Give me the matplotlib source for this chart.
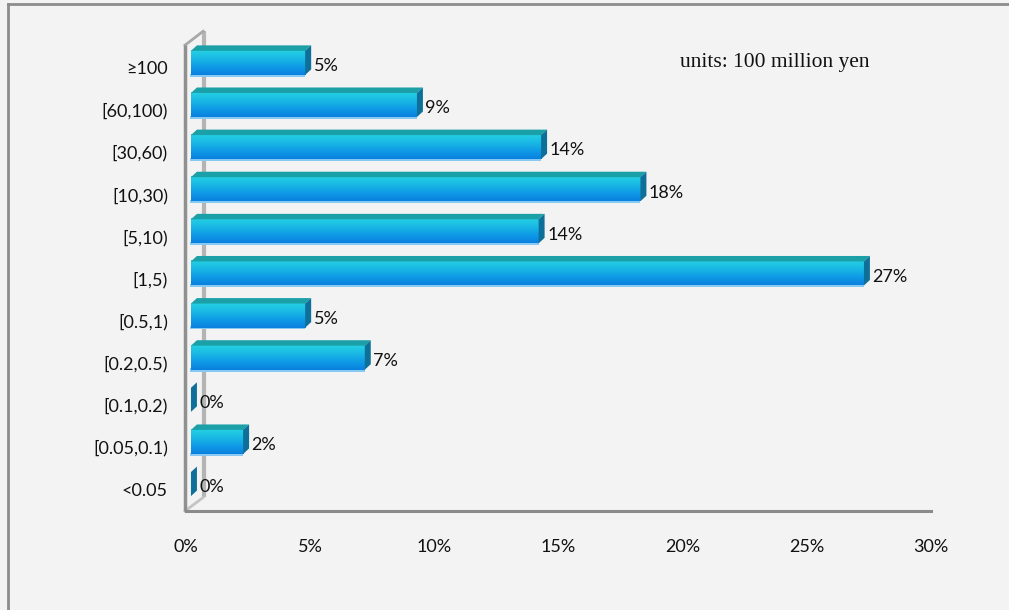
import numpy as np
import matplotlib
matplotlib.use("Agg")
import matplotlib.pyplot as plt
from matplotlib.patches import Polygon, Rectangle
from matplotlib.colors import LinearSegmentedColormap
from matplotlib.lines import Line2D

# Distribution of companies by size (units: 100 million yen)
categories = ["<0.05", "[0.05,0.1)", "[0.1,0.2)", "[0.2,0.5)", "[0.5,1)", "[1,5)",
              "[5,10)", "[10,30)", "[30,60)", "[60,100)", "\u2265100"]
shares = [0.0, 2.1, 0.0, 7.0, 4.6, 27.1, 14.0, 18.1, 14.1, 9.1, 4.6]
x_ticks = [0, 5, 10, 15, 20, 25, 30]
x_tick_labels = [f"{t}%" for t in x_ticks]
units_note = "units: 100 million yen"

W, H, DPI = 1009, 610, 100
BG = "#f3f3f3"
fig = plt.figure(figsize=(W / DPI, H / DPI), dpi=DPI, facecolor=BG)

# outer chart frame (top and left edges visible)
fig.add_artist(Line2D([8 / W, 8 / W], [0, 1 - 4 / H], transform=fig.transFigure,
                      color="#8c8c8c", lw=2))
fig.add_artist(Line2D([8 / W, 1], [1 - 4 / H, 1 - 4 / H], transform=fig.transFigure,
                      color="#8c8c8c", lw=2))

# plot area
left_px, right_px, bot_px, top_px = 186, 931, 511, 46
ax = fig.add_axes([left_px / W, 1 - bot_px / H, (right_px - left_px) / W,
                   (bot_px - top_px) / H])
ax.set_facecolor("none")
n = len(categories)
ax.set_xlim(0, 30)
ax.set_ylim(-0.52, n - 1 + 0.52)

for s in ["top", "right", "left"]:
    ax.spines[s].set_visible(False)
ax.spines["bottom"].set_color("#8a8a8a")
ax.spines["bottom"].set_linewidth(2.2)

FONT = ["Lato", "DejaVu Sans"]
ax.set_xticks(x_ticks)
ax.set_xticklabels(x_tick_labels)
ax.set_yticks(range(n))
ax.set_yticklabels(categories)
ax.tick_params(axis="x", length=0, pad=20, labelsize=13, labelcolor="#111111")
ax.tick_params(axis="y", length=0, pad=13, labelsize=13, labelcolor="#111111")
for lab in ax.get_xticklabels() + ax.get_yticklabels():
    lab.set_fontfamily(FONT)

# 3-D styling constants (data units)
base = 0.2           # floor offset of the bar fronts
dx, dy = 0.24, 0.13  # depth of the bars
half_h = 0.285
y_shift = 0.12

# walls
wall_back_x = 0.72
ax.plot([wall_back_x, wall_back_x], [-0.19, 10.87], color="#b4b4b4", lw=3,
        zorder=1, clip_on=False, solid_capstyle="butt")
ax.plot([-0.04, -0.04], [-0.52, 10.54], color="#909090", lw=2.5, zorder=2,
        clip_on=False, solid_capstyle="butt")
ax.plot([-0.04, 0.69], [10.54, 10.87], color="#a8a8a8", lw=2, zorder=1, clip_on=False)
ax.plot([-0.04, 0.69], [-0.52, -0.2], color="#c4c4c4", lw=2, zorder=1, clip_on=False)

front_cmap = LinearSegmentedColormap.from_list(
    "front", ["#0a80de", "#0f9be6", "#1ab9e4", "#24d0e2"])
grad = np.linspace(0, 1, 64).reshape(-1, 1)

for i, v in enumerate(shares):
    yc = i + y_shift
    yb, yt = yc - half_h, yc + half_h
    x0, x1 = base, base + v
    if v > 0:
        # front face with vertical gradient
        ax.imshow(grad, cmap=front_cmap, origin="lower", aspect="auto",
                  extent=[x0, x1, yb, yt], zorder=4, interpolation="bilinear",
                  clip_on=False)
        # light rim along the bottom edge
        ax.add_patch(Rectangle((x0 - 0.03, yb - 0.045), v + 0.03, 0.075,
                               facecolor="#86c9f2", edgecolor="none", zorder=3,
                               clip_on=False))
        # top face
        ax.add_patch(Polygon([(x0, yt), (x1, yt), (x1 + dx, yt + dy), (x0 + dx, yt + dy)],
                             closed=True, facecolor="#1ca0a8", edgecolor="none",
                             zorder=5, clip_on=False))
    # right side face
    ax.add_patch(Polygon([(x1, yb), (x1, yt), (x1 + dx, yt + dy), (x1 + dx, yb + dy)],
                         closed=True, facecolor="#0e6f98", edgecolor="none",
                         zorder=5, clip_on=False))
    ax.text(x1 + dx + 0.1, i + 0.04, f"{v:.0f}%", va="center", ha="left",
            fontsize=13, color="#111111", family=FONT, zorder=6, clip_on=False)

fig.text(680 / W, 1 - 62 / H, units_note, ha="left", va="center",
         fontsize=15.5, family=["Liberation Serif", "DejaVu Serif"], color="#111111")

fig.savefig("out.png", dpi=DPI, facecolor=BG)
